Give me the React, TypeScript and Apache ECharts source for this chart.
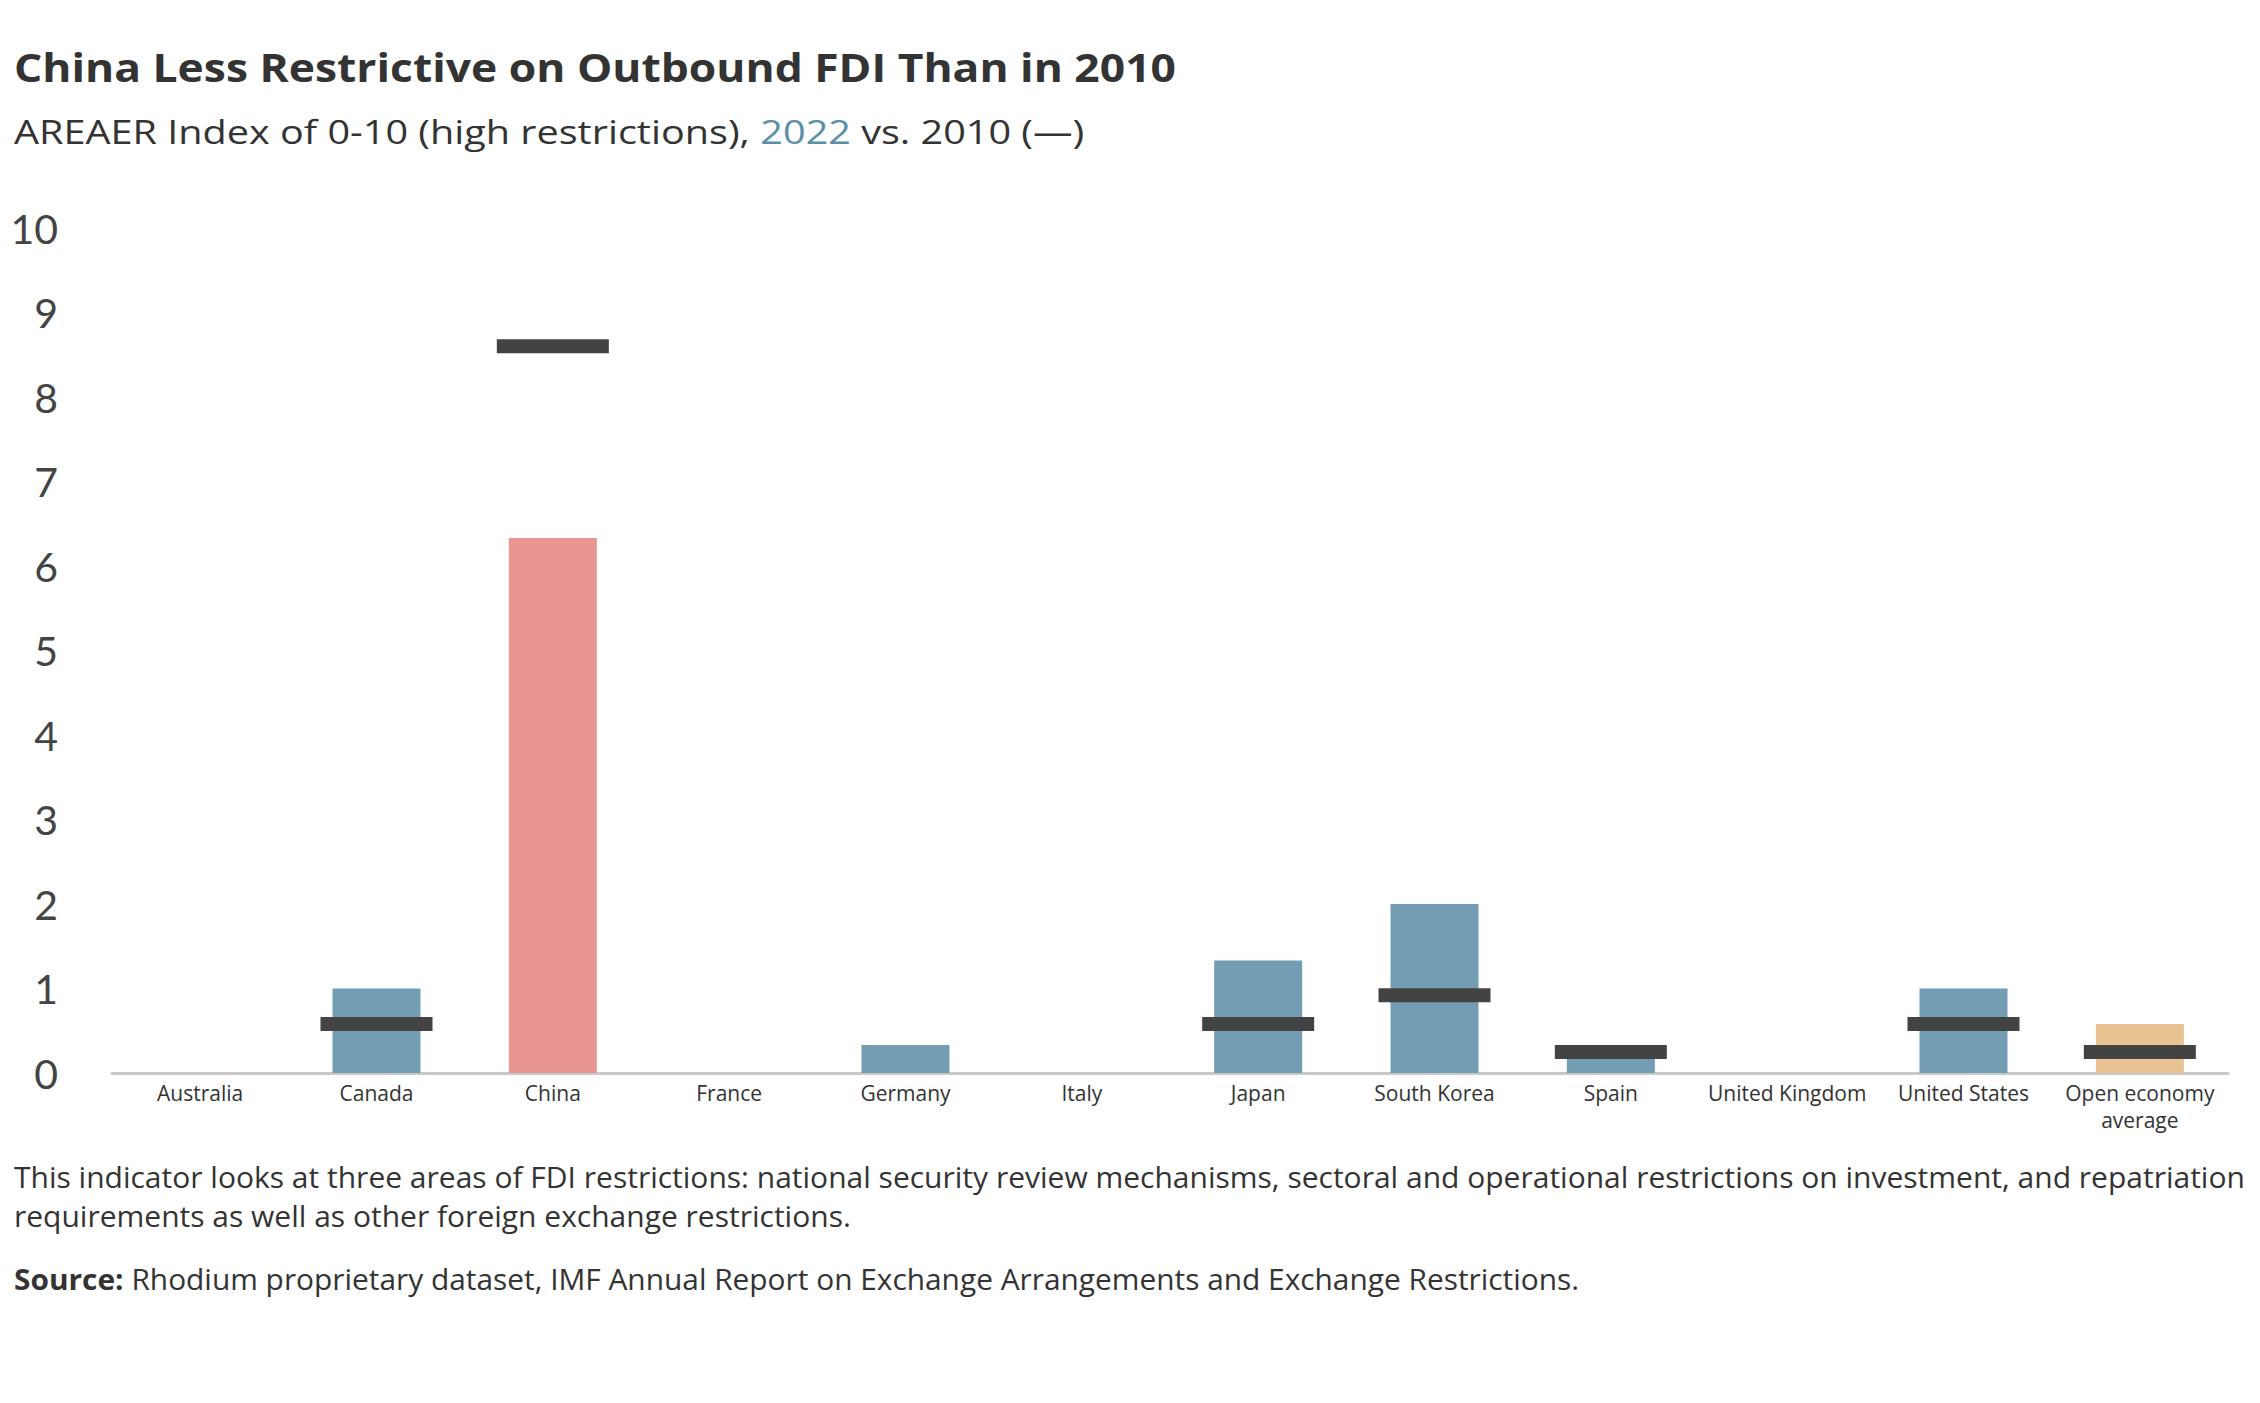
import React, { useEffect, useRef } from "react";
import * as echarts from "echarts";

const categories = [
  "Australia",
  "Canada",
  "China",
  "France",
  "Germany",
  "Italy",
  "Japan",
  "South Korea",
  "Spain",
  "United Kingdom",
  "United States",
  "Open economy\naverage",
];
const values2022 = [0, 1.0, 6.33, 0, 0.33, 0, 1.33, 2.0, 0.2, 0, 1.0, 0.58];
const values2010 = [null, 0.58, 8.6, null, null, null, 0.58, 0.92, 0.25, null, 0.58, 0.25];
const yTicks = [0, 1, 2, 3, 4, 5, 6, 7, 8, 9, 10];

const BLUE = "#729db3";
const RED = "#e89592";
const ORANGE = "#e8c290";
const MARK = "#434343";
const FONT = "Open Sans";
const AXFONT = "Lato";

export default function App() {
  const ref = useRef<HTMLDivElement>(null);
  useEffect(() => {
    document.body.style.margin = "0";
    const chart = echarts.init(ref.current!, null, { renderer: "svg" });
    const barColor = (name: string) =>
      name === "China" ? RED : name.startsWith("Open economy") ? ORANGE : BLUE;
    chart.setOption({
      animation: false,
      backgroundColor: "#ffffff",
      textStyle: { fontFamily: FONT },
      grid: { left: 112, right: 32, top: 228, bottom: 330, containLabel: false },
      xAxis: {
        type: "category",
        data: categories,
        axisLine: { show: true, lineStyle: { color: "#c8c8c8", width: 3 } },
        axisTick: { show: false },
        axisLabel: {
          interval: 0,
          color: "#333333",
          fontSize: 21,
          fontFamily: FONT,
          margin: 6,
          lineHeight: 27,
        },
        splitLine: { show: false },
      },
      yAxis: {
        type: "value",
        min: yTicks[0],
        max: yTicks[yTicks.length - 1],
        interval: 1,
        axisLine: { show: false },
        axisTick: { show: false },
        splitLine: { show: false },
        axisLabel: {
          color: "#444444",
          fontSize: 41,
          fontFamily: AXFONT,
          margin: 54,
        },
      },
      series: [
        {
          name: "2022",
          type: "bar",
          barWidth: 88,
          z: 2,
          data: values2022.map((v, i) => ({
            value: v,
            itemStyle: { color: barColor(categories[i]) },
          })),
        },
        {
          name: "2010",
          type: "scatter",
          symbol: "rect",
          symbolSize: [112, 14],
          z: 3,
          itemStyle: { color: MARK, opacity: 1 },
          data: values2010,
        },
      ],
      graphic: [
        {
          type: "text",
          x: 14,
          y: 46,
          scaleX: 1.11,
          style: {
            text: "China Less Restrictive on Outbound FDI Than in 2010",
            fontFamily: FONT,
            fontWeight: "bold",
            fontSize: 40,
            fill: "#333333",
            verticalAlign: "top",
          },
        },
        {
          type: "text",
          x: 14,
          y: 115,
          scaleX: 1.2,
          style: {
            text: "{a|AREAER Index of 0-10 (high restrictions), }{b|2022}{a| vs. 2010 (—)}",
            verticalAlign: "top",
            rich: {
              a: { fontFamily: FONT, fontSize: 33, fill: "#333333", fontWeight: "normal" },
              b: { fontFamily: FONT, fontSize: 33, fill: "#5b8fa8", fontWeight: "normal" },
            },
          },
        },
        {
          type: "text",
          x: 14,
          y: 1157,
          scaleX: 1.035,
          style: {
            text:
              "This indicator looks at three areas of FDI restrictions: national security review mechanisms, sectoral and operational restrictions on investment, and repatriation\nrequirements as well as other foreign exchange restrictions.",
            fontFamily: FONT,
            fontSize: 29,
            lineHeight: 39,
            fill: "#333333",
            verticalAlign: "top",
          },
        },
        {
          type: "text",
          x: 14,
          y: 1265,
          scaleX: 1.03,
          style: {
            text:
              "{b|Source: }{a|Rhodium proprietary dataset, IMF Annual Report on Exchange Arrangements and Exchange Restrictions.}",
            verticalAlign: "top",
            rich: {
              a: { fontFamily: FONT, fontSize: 29, fill: "#333333" },
              b: { fontFamily: FONT, fontSize: 29, fill: "#333333", fontWeight: "bold" },
            },
          },
        },
      ],
    });
    return () => chart.dispose();
  }, []);
  return <div ref={ref} style={{ width: 2260, height: 1403 }} />;
}
